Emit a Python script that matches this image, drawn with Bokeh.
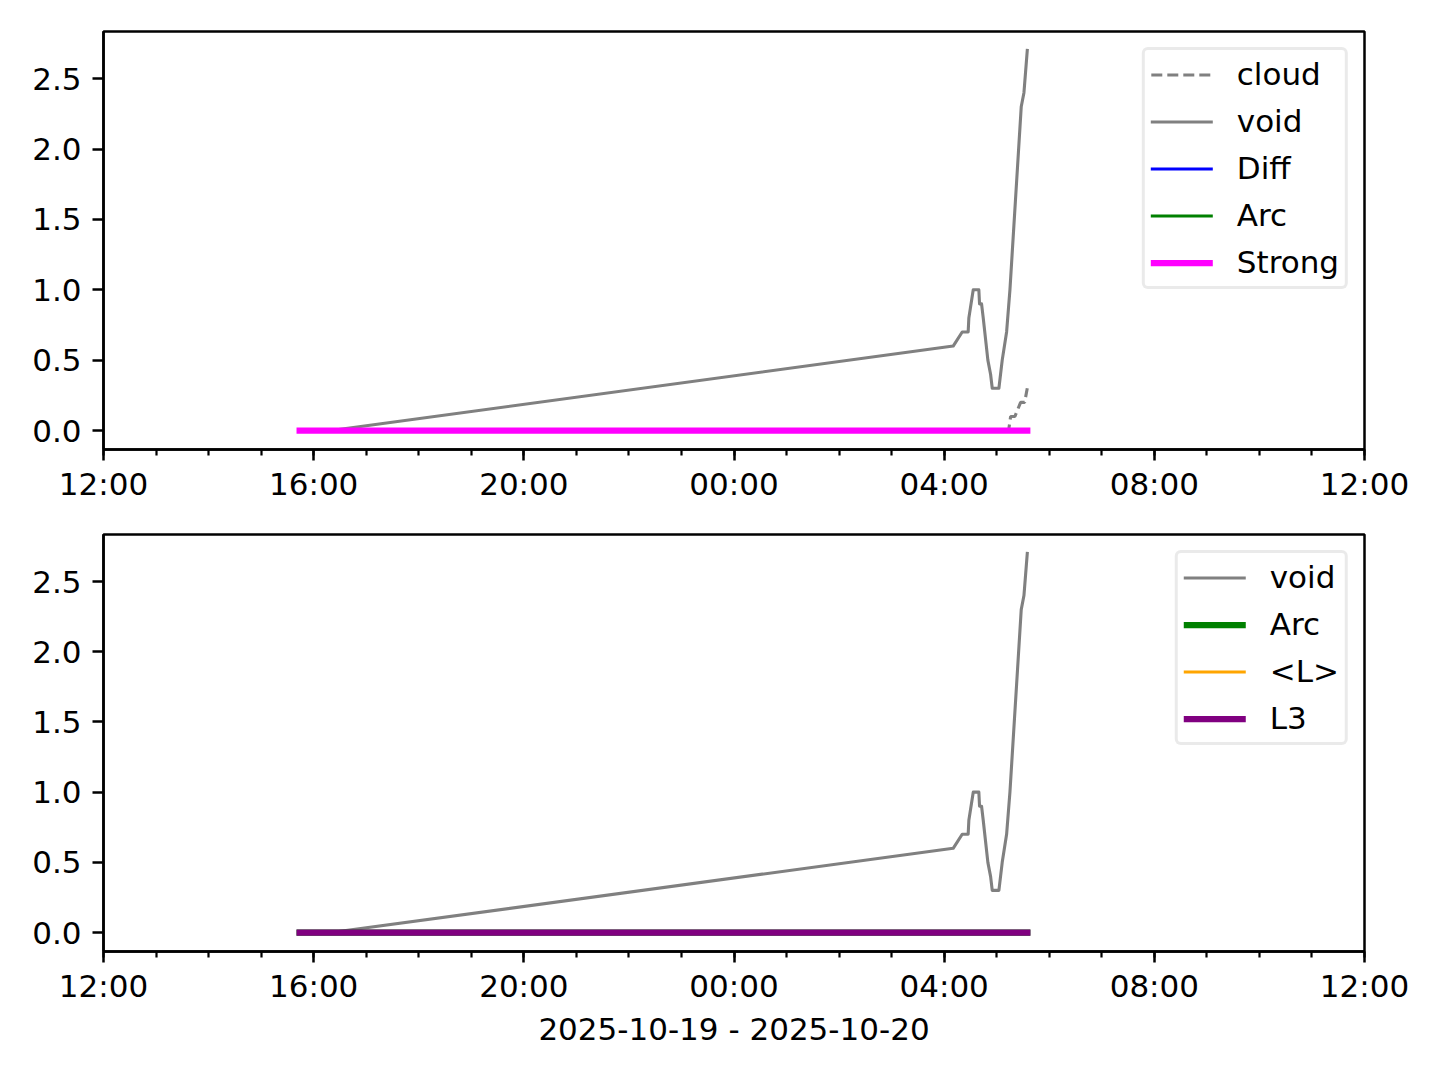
import pandas as pd
from bokeh.plotting import figure
from bokeh.models import (Range1d, FixedTicker, DatetimeTickFormatter,
                          NumeralTickFormatter, Legend, LegendItem)
from bokeh.layouts import column
from bokeh.embed import file_html
from bokeh.resources import INLINE

# ---------------- data ----------------
void_t = ["2025-10-19 15:44:00", "2025-10-19 16:20:00",
          "2025-10-20 04:10:18", "2025-10-20 04:20:36", "2025-10-20 04:27:24",
          "2025-10-20 04:28:12", "2025-10-20 04:33:12", "2025-10-20 04:39:36",
          "2025-10-20 04:40:24", "2025-10-20 04:42:42", "2025-10-20 04:44:36",
          "2025-10-20 04:49:54", "2025-10-20 04:53:00", "2025-10-20 04:54:54",
          "2025-10-20 05:02:30", "2025-10-20 05:06:18", "2025-10-20 05:11:18",
          "2025-10-20 05:15:06", "2025-10-20 05:28:00", "2025-10-20 05:31:06",
          "2025-10-20 05:34:54"]
void_v = [0.0, 0.0, 0.6, 0.7, 0.7, 0.8, 1.0, 1.0, 0.9, 0.9, 0.8, 0.5, 0.4,
          0.3, 0.3, 0.5, 0.7, 1.0, 2.3, 2.4, 2.7]

cloud_t = ["2025-10-19 15:44:00", "2025-10-20 05:13:36", "2025-10-20 05:15:54",
           "2025-10-20 05:20:48", "2025-10-20 05:27:18", "2025-10-20 05:31:54",
           "2025-10-20 05:34:54"]
cloud_v = [0.0, 0.0, 0.1, 0.1, 0.2, 0.2, 0.3]

flat_t = ["2025-10-19 15:44:00", "2025-10-20 05:34:54"]
diff_v = [0.0, 0.0]
arc_v = [0.0, 0.0]
strong_v = [0.0, 0.0]
meanL_v = [0.0, 0.0]
l3_v = [0.0, 0.0]

x_start = "2025-10-19 12:00"
x_end = "2025-10-20 12:00"
major_tick_times = ["2025-10-19 12:00", "2025-10-19 16:00", "2025-10-19 20:00",
                    "2025-10-20 00:00", "2025-10-20 04:00", "2025-10-20 08:00",
                    "2025-10-20 12:00"]
minor_tick_times = [f"2025-10-19 {h:02d}:00" for h in range(12, 24)] + \
                   [f"2025-10-20 {h:02d}:00" for h in range(0, 13)]
y_ticks = [0.0, 0.5, 1.0, 1.5, 2.0, 2.5]
x_label = "2025-10-19 - 2025-10-20"

# ---------------- helpers ----------------
EPOCH = pd.Timestamp("1970-01-01")


def ms(lst):
    return [float((pd.Timestamp(s) - EPOCH) / pd.Timedelta(milliseconds=1)) for s in lst]


def dt(lst):
    return pd.to_datetime(lst)


FONT = "DejaVu Sans"
FS = "31px"
W = 1432
H = 1072
H1 = 513


def make_fig(height, top, bottom):
    p = figure(width=W, height=height, x_axis_type="datetime",
               output_backend="svg", toolbar_location=None,
               x_range=Range1d(pd.Timestamp(x_start), pd.Timestamp(x_end)),
               y_range=Range1d(-0.135, 2.835))
    p.min_border_left = 103
    p.min_border_right = W - 1364
    p.min_border_top = top
    p.min_border_bottom = bottom
    p.xgrid.grid_line_color = None
    p.ygrid.grid_line_color = None
    p.outline_line_color = "black"
    p.outline_line_width = 2.5
    p.background_fill_color = "white"
    p.border_fill_color = "white"

    p.xaxis.ticker = FixedTicker(ticks=ms(major_tick_times), minor_ticks=ms(minor_tick_times))
    p.xaxis.formatter = DatetimeTickFormatter(
        milliseconds="%H:%M", seconds="%H:%M", minsec="%H:%M", minutes="%H:%M",
        hourmin="%H:%M", hours="%H:%M", days="%H:%M", months="%H:%M", years="%H:%M")
    p.yaxis.ticker = FixedTicker(ticks=y_ticks, minor_ticks=[])
    p.yaxis.formatter = NumeralTickFormatter(format="0.0")
    for ax in (p.xaxis, p.yaxis):
        ax.axis_line_color = "black"
        ax.axis_line_width = 2.5
        ax.major_tick_line_color = "black"
        ax.major_tick_line_width = 2.5
        ax.minor_tick_line_color = "black"
        ax.minor_tick_line_width = 2.2
        ax.major_tick_out = 11
        ax.major_tick_in = 0
        ax.minor_tick_out = 6
        ax.minor_tick_in = 0
        ax.major_label_text_font = FONT
        ax.major_label_text_font_size = FS
        ax.major_label_text_color = "black"
    p.xaxis.major_label_standoff = 5
    p.yaxis.major_label_standoff = 11
    return p


def make_legend(items):
    lg = Legend(items=items, location="top_right")
    lg.margin = 16
    lg.padding = 6
    lg.spacing = 11
    lg.glyph_width = 62
    lg.glyph_height = 31
    lg.label_height = 31
    lg.label_standoff = 24
    lg.label_text_font = FONT
    lg.label_text_font_size = FS
    lg.label_text_color = "black"
    lg.border_line_color = "#d5d5d5"
    lg.border_line_width = 3
    lg.background_fill_color = "white"
    lg.background_fill_alpha = 0.8
    if "border_radius" in Legend.properties():
        lg.border_radius = 6
    return lg


# ---------------- top panel ----------------
p1 = make_fig(H1, 31, H1 - 449)
r_cloud = p1.line(dt(cloud_t), cloud_v, line_color="#808080", line_width=3.1,
                  line_dash="11 5")
r_void = p1.line(dt(void_t), void_v, line_color="#808080", line_width=3.1,
                 line_cap="square", line_join="round")
r_diff = p1.line(dt(flat_t), diff_v, line_color="#0000ff", line_width=3.1, line_cap="square")
r_arc = p1.line(dt(flat_t), arc_v, line_color="#008000", line_width=3.1, line_cap="square")
r_strong = p1.line(dt(flat_t), strong_v, line_color="#ff00ff", line_width=6.25, line_cap="square")
p1.add_layout(make_legend([
    LegendItem(label="cloud", renderers=[r_cloud]),
    LegendItem(label="void", renderers=[r_void]),
    LegendItem(label="Diff", renderers=[r_diff]),
    LegendItem(label="Arc", renderers=[r_arc]),
    LegendItem(label="Strong", renderers=[r_strong]),
]))

# ---------------- bottom panel ----------------
H2 = H - H1
p2 = make_fig(H2, 534 - H1, H2 - (534 - H1) - 417)
r_void2 = p2.line(dt(void_t), void_v, line_color="#808080", line_width=3.1,
                  line_cap="square", line_join="round")
r_arc2 = p2.line(dt(flat_t), arc_v, line_color="#008000", line_width=6.25, line_cap="square")
r_meanL = p2.line(dt(flat_t), meanL_v, line_color="#ffa500", line_width=3.1, line_cap="square")
r_l3 = p2.line(dt(flat_t), l3_v, line_color="#800080", line_width=6.25, line_cap="square")
p2.xaxis.axis_label = x_label
p2.xaxis.axis_label_text_font = FONT
p2.xaxis.axis_label_text_font_size = FS
p2.xaxis.axis_label_text_font_style = "normal"
p2.xaxis.axis_label_text_color = "black"
p2.xaxis.axis_label_standoff = 4
p2.add_layout(make_legend([
    LegendItem(label="void", renderers=[r_void2]),
    LegendItem(label="Arc", renderers=[r_arc2]),
    LegendItem(label="<L>", renderers=[r_meanL]),
    LegendItem(label="L3", renderers=[r_l3]),
]))

layout = column(p1, p2, spacing=0)
with open("out.html", "w") as f:
    f.write(file_html(layout, INLINE))
